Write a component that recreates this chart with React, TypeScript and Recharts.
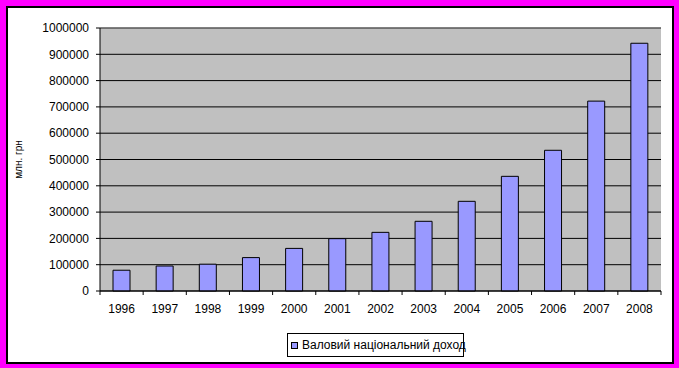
import { Bar, BarChart, CartesianGrid, ReferenceLine, XAxis, YAxis } from "recharts";

const years = ["1996", "1997", "1998", "1999", "2000", "2001", "2002", "2003", "2004", "2005", "2006", "2007", "2008"];
const gni = [79000, 95000, 102000, 127000, 162000, 199000, 223000, 265000, 341000, 436000, 535000, 722000, 942000];
const yTicks = [0, 100000, 200000, 300000, 400000, 500000, 600000, 700000, 800000, 900000, 1000000];
const seriesName = "Валовий національний доход";
const yLabel = "млн. грн";

const data = years.map((year, i) => ({ year, value: gni[i] }));

const font = "'Liberation Sans', Arial, sans-serif";
const X_TICK_SIZE = 4;
const X_TICK_MARGIN = 9;

// Excel-style category ticks: marks sit between categories, label in the middle
function YearTick(props: any) {
  const { x, y, payload, index } = props;
  const half = payload?.offset ?? 0;
  const axisY = y - X_TICK_SIZE - X_TICK_MARGIN;
  const isLast = index === years.length - 1;
  return (
    <g>
      <line x1={x - half} x2={x - half} y1={axisY} y2={axisY + X_TICK_SIZE} stroke="#000" />
      {isLast ? <line x1={x + half} x2={x + half} y1={axisY} y2={axisY + X_TICK_SIZE} stroke="#000" /> : null}
      <text x={x} y={y} dy="0.71em" textAnchor="middle" fill="#000" fontSize={12} fontFamily={font}>
        {payload.value}
      </text>
    </g>
  );
}

export default function App() {
  return (
    <div style={{ position: "absolute", left: 0, top: 0, width: 679, height: 368, background: "#FF00FF", fontFamily: font }}>
      <div
        style={{
          position: "absolute",
          left: 6,
          top: 6,
          width: 668,
          height: 358,
          boxSizing: "border-box",
          border: "2px solid #000",
          background: "#fff"
        }}
      />
      <div style={{ position: "absolute", left: 0, top: 0 }}>
        <BarChart width={679} height={368} data={data} margin={{ top: 28, right: 18, bottom: 47, left: 0 }}>
          <CartesianGrid horizontal vertical={false} stroke="#000" fill="#C0C0C0" fillOpacity={1} />
          <XAxis
            dataKey="year"
            height={30}
            tickLine={false}
            tickSize={X_TICK_SIZE}
            tickMargin={X_TICK_MARGIN}
            axisLine={{ stroke: "#000" }}
            tick={<YearTick />}
            interval={0}
          />
          <YAxis
            width={100}
            domain={[0, 1000000]}
            ticks={yTicks}
            interval={0}
            tickSize={4}
            tickMargin={7}
            tickLine={{ stroke: "#000" }}
            axisLine={{ stroke: "#000" }}
            tick={{ fill: "#000", fontSize: 12, fontFamily: font }}
            label={{
              value: yLabel,
              angle: -90,
              position: "insideLeft",
              offset: 18,
              style: { fill: "#000", fontSize: 10, fontFamily: font, textAnchor: "middle" }
            }}
          />
          <YAxis
            yAxisId="r"
            orientation="right"
            width={0}
            domain={[0, 1000000]}
            tick={false}
            tickLine={false}
            axisLine={{ stroke: "#808080" }}
          />
          <ReferenceLine y={1000000} stroke="#808080" />
          <Bar
            dataKey="value"
            name={seriesName}
            fill="#9999FF"
            stroke="#000"
            strokeWidth={1}
            barSize={17}
            isAnimationActive={false}
          />
        </BarChart>
      </div>
      <div
        style={{
          position: "absolute",
          left: 287,
          top: 333,
          width: 177,
          height: 24,
          boxSizing: "border-box",
          border: "1px solid #000",
          background: "#fff",
          display: "flex",
          alignItems: "center",
          paddingLeft: 3,
          fontSize: 12,
          color: "#000",
          whiteSpace: "nowrap"
        }}
      >
        <span
          style={{
            display: "inline-block",
            flexShrink: 0,
            width: 7,
            height: 7,
            boxSizing: "border-box",
            border: "1px solid #000",
            background: "#9999FF",
            marginRight: 4
          }}
        />
        {seriesName}
      </div>
    </div>
  );
}
